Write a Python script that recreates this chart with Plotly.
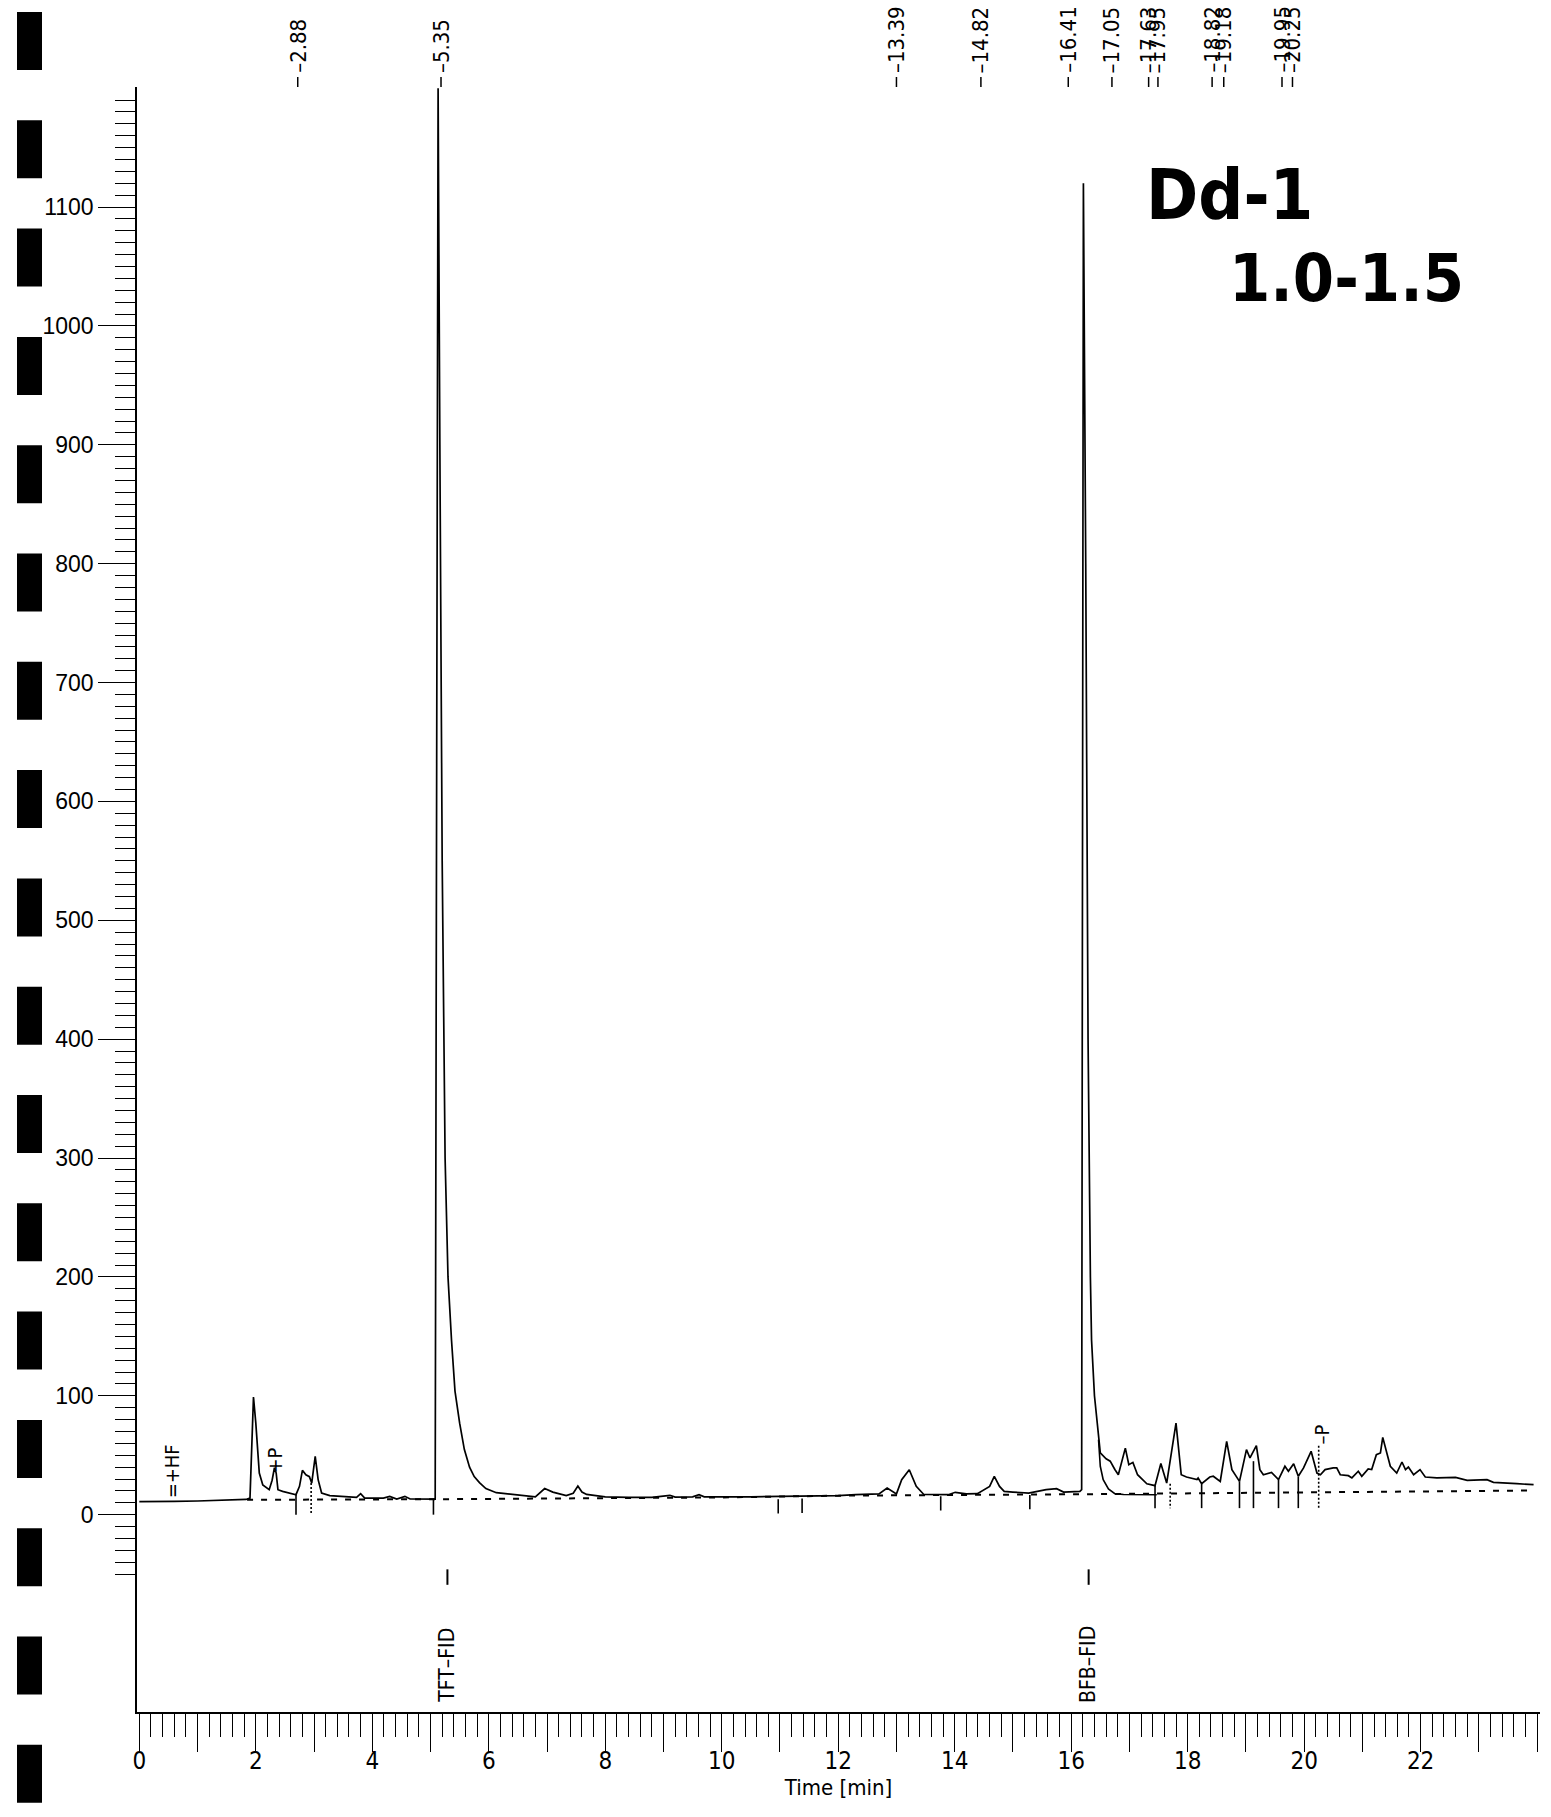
import plotly.graph_objects as go

# ---------------- data ----------------
time_min = [0.00, 0.30, 0.60, 1.00, 1.30, 1.66, 1.83, 1.90, 1.93, 1.96, 2.00, 2.06, 2.12, 2.23, 2.28,
            2.32, 2.35, 2.38, 2.46, 2.60, 2.69, 2.75, 2.80, 2.86, 2.92, 2.96, 3.02, 3.07, 3.13, 3.27,
            3.56, 3.73, 3.80, 3.87, 4.19, 4.30, 4.42, 4.56, 4.65, 5.02, 5.08, 5.10, 5.13, 5.16, 5.20,
            5.25, 5.30, 5.36, 5.42, 5.50, 5.58, 5.67, 5.75, 5.84, 5.95, 6.13, 6.41, 6.60, 6.80, 6.96,
            7.10, 7.33, 7.45, 7.53, 7.60, 7.68, 8.00, 8.40, 8.80, 9.11, 9.20, 9.50, 9.61, 9.70, 10.00,
            10.50, 11.00, 11.50, 12.00, 12.30, 12.70, 12.84, 13.00, 13.09, 13.22, 13.34, 13.47, 13.89,
            14.01, 14.20, 14.39, 14.60, 14.68, 14.77, 14.85, 15.00, 15.27, 15.57, 15.75, 15.87, 16.15,
            16.18, 16.19, 16.21, 16.25, 16.29, 16.33, 16.35, 16.40, 16.47, 16.50, 16.60, 16.67, 16.75, 16.81,
            16.93, 16.99, 17.06, 17.14, 17.30, 17.44, 17.54, 17.64, 17.80, 17.89, 17.98, 18.16, 18.18,
            18.24, 18.38, 18.44, 18.56, 18.67, 18.76, 18.89, 19.01, 19.07, 19.18, 19.24, 19.30, 19.44,
            19.56, 19.67, 19.73, 19.82, 19.90, 19.99, 20.12, 20.22, 20.28, 20.36, 20.50, 20.56, 20.62,
            20.76, 20.82, 20.93, 20.99, 21.10, 21.16, 21.24, 21.31, 21.35, 21.42, 21.48, 21.59, 21.68,
            21.74, 21.79, 21.88, 21.99, 22.08, 22.28, 22.60, 22.80, 23.14, 23.25, 23.65, 23.94]
signal_pA = [11.0, 10.8, 11.2, 11.5, 11.8, 12.6, 12.8, 14.0, 50.0, 99.0, 77.0, 35.0, 25.0, 21.0, 29.0,
             39.5, 35.0, 21.0, 19.6, 18.0, 16.8, 23.8, 37.3, 33.6, 32.0, 26.6, 49.0, 29.5, 18.2, 16.0,
             15.4, 14.6, 17.7, 14.0, 14.0, 15.4, 13.2, 15.4, 13.2, 12.6, 13.0, 500.0, 1200.0, 900.0, 550.0,
             300.0, 200.0, 147.0, 104.0, 77.0, 55.0, 40.0, 32.0, 27.0, 22.0, 18.5, 17.0, 16.0, 15.0, 22.0,
             19.0, 16.0, 18.0, 24.0, 19.0, 17.0, 15.0, 14.5, 14.6, 16.3, 14.8, 15.0, 16.8, 15.0, 14.8,
             15.0, 15.4, 15.6, 16.0, 16.8, 17.5, 22.4, 17.5, 29.4, 37.8, 23.8, 17.0, 16.8,
             18.8, 17.5, 17.7, 23.8, 32.2, 23.8, 19.6, 19.0, 18.2, 21.0, 21.9, 19.0, 19.6,
             21.0, 500.0, 1120.0, 800.0, 400.0, 200.0, 147.0, 100.0, 63.0, 52.0, 47.0, 45.0, 38.0, 33.6,
             56.0, 42.0, 44.0, 33.6, 26.0, 24.4, 43.0, 26.6, 77.0, 33.6, 31.7, 29.5, 30.9,
             26.0, 31.7, 32.3, 28.0, 61.7, 37.9, 28.0, 54.7, 47.7, 58.0, 37.9, 33.6, 35.6,
             29.5, 40.7, 36.5, 42.9, 32.3, 39.3, 53.3, 35.0, 33.6, 37.9, 39.3, 39.3, 33.6,
             32.8, 30.9, 36.5, 32.3, 38.4, 37.9, 50.5, 51.9, 65.0, 51.9, 40.7, 35.0, 44.3,
             37.9, 40.1, 33.6, 37.9, 31.7, 30.9, 31.4, 28.9, 29.5, 27.2, 26.1, 25.2]

# tangent-skim curve under the BFB peak
skim_t = [16.47, 16.50, 16.55, 16.64, 16.75, 16.90, 17.47]
skim_v = [63.0, 40.7, 29.5, 21.6, 17.7, 17.0, 16.8]

# integration baseline (dashed)
base_t = [1.85, 5.10, 10.00, 12.00, 16.20, 23.90]
base_v = [12.5, 13.0, 14.5, 16.0, 17.2, 20.3]

# integration drop lines: time, top, bottom, style
drop_t = [2.69, 2.95, 5.05, 10.97, 11.38, 13.76, 15.29, 17.44, 17.70, 18.24, 18.89, 19.13, 19.56, 19.90, 20.25]
drop_top = [16.8, 26.6, 12.6, 13.0, 13.5, 15.5, 16.5, 24.4, 26.0, 26.0, 28.0, 45.0, 29.5, 32.0, 58.0]
drop_bot = [0.0, 0.0, 0.0, 1.0, 1.5, 3.5, 4.5, 5.5, 5.5, 5.5, 5.5, 5.5, 5.5, 5.5, 5.5]
drop_dotted = [False, True, False, False, False, False, False, False, True, False, False, False, False, False, True]

# retention-time labels printed above the chart (position on the axis, text)
rt_pos = [2.72, 5.18, 13.0, 14.45, 15.95, 16.70, 17.33, 17.49, 18.42, 18.62, 19.62, 19.80]
rt_text = ["2.88", "5.35", "13.39", "14.82", "16.41", "17.05", "17.63", "17.95", "18.82", "19.18", "19.95", "20.25"]

# peak name labels inside the chart
peak_name_t = [0.56, 2.33, 20.30]
peak_name_v = [12.0, 33.0, 57.0]
peak_name_text = ["=+HF", "+P", "–P"]

# surrogate labels under the trace
surr_t = [5.29, 16.30]
surr_text = ["TFT–FID", "BFB–FID"]

x_ticks = list(range(0, 25))
x_tick_text = [str(v) if v % 2 == 0 and v <= 22 else "" for v in x_ticks]
y_ticks = list(range(-50, 1200, 50))
y_tick_text = [str(v) if v % 100 == 0 and v >= 0 else "" for v in y_ticks]
y_minor = list(range(-50, 1200, 10))
x_minor_dt = 0.2

# ---------------- figure ----------------
W, H = 1551, 1817
ML, MR, MT, MB = 137, 11, 87, 105
XR = [-0.04, 24.05]
YR = [-166, 1201]
NARROW = "DejaVu Sans Condensed, Liberation Sans Narrow, Liberation Sans, Arial, sans-serif"
SANS = "Liberation Sans, Arial, sans-serif"

fig = go.Figure()

fig.add_trace(go.Scatter(x=base_t, y=base_v, mode="lines",
                         line=dict(color="black", width=2, dash="6px,8px"), hoverinfo="skip"))

for dotted in (False, True):
    xs, ys = [], []
    for t, a, b, d in zip(drop_t, drop_top, drop_bot, drop_dotted):
        if d == dotted:
            xs += [t, t, None]
            ys += [a, b, None]
    fig.add_trace(go.Scatter(x=xs, y=ys, mode="lines",
                             line=dict(color="black", width=1.6, dash="2px,2px" if dotted else "solid"),
                             hoverinfo="skip"))

fig.add_trace(go.Scatter(x=skim_t, y=skim_v, mode="lines", line=dict(color="black", width=1.6)))
fig.add_trace(go.Scatter(x=time_min, y=signal_pA, mode="lines", line=dict(color="black", width=1.7)))

ann = []
for t, txt in zip(rt_pos, rt_text):
    ann.append(dict(x=t, y=YR[1], xref="x", yref="y", text="–" + txt, textangle=-90,
                    showarrow=False, xanchor="center", yanchor="bottom", yshift=12,
                    font=dict(family=NARROW, size=22, color="black")))
for t, v, txt in zip(peak_name_t, peak_name_v, peak_name_text):
    ann.append(dict(x=t, y=v, text=txt, textangle=-90, showarrow=False,
                    xanchor="center", yanchor="bottom",
                    font=dict(family=NARROW, size=20, color="black")))
for t, txt in zip(surr_t, surr_text):
    ann.append(dict(x=t, y=-160, text=txt, textangle=-90, showarrow=False,
                    xanchor="center", yanchor="bottom",
                    font=dict(family=NARROW, size=21, color="black")))

ann.append(dict(x=18.72, y=1110, text="<b>Dd-1</b>", showarrow=False,
                font=dict(family=NARROW, size=70, color="black")))
ann.append(dict(x=20.72, y=1040, text="<b>1.0-1.5</b>", showarrow=False,
                font=dict(family=NARROW, size=66, color="black")))

shapes = []
# short ticks under the retention-time labels
for t in rt_pos:
    shapes.append(dict(type="line", xref="x", yref="paper", x0=t, x1=t, y0=1.0, y1=1.0 + 10 / (H - MT - MB),
                       line=dict(color="black", width=1.5)))
# ticks above the surrogate labels
for t in surr_t:
    shapes.append(dict(type="line", xref="x", yref="y", x0=t, x1=t, y0=-46, y1=-59,
                       line=dict(color="black", width=2)))
# scanner sprocket marks on the left edge
ph = H - MT - MB
pw = W - ML - MR
for k in range(17):
    top = 12 + 108.3 * k
    shapes.append(dict(type="rect", xref="paper", yref="paper",
                       x0=(17 - ML) / pw, x1=(42 - ML) / pw,
                       y0=(H - MB - (top + 58)) / ph, y1=(H - MB - top) / ph,
                       fillcolor="black", line=dict(width=0)))

fig.update_layout(
    width=W, height=H, margin=dict(l=ML, r=MR, t=MT, b=MB),
    paper_bgcolor="white", plot_bgcolor="white", showlegend=False,
    annotations=ann, shapes=shapes,
    xaxis=dict(range=XR, showgrid=False, zeroline=False, showline=True, linecolor="black", linewidth=1.6,
               ticks="outside", tickmode="array", tickvals=x_ticks, ticktext=x_tick_text,
               ticklen=38, tickwidth=1.4, tickcolor="black", ticklabelstandoff=-12,
               minor=dict(ticks="outside", dtick=x_minor_dt, tick0=0, ticklen=23, tickwidth=1.2, tickcolor="black"),
               tickfont=dict(family=NARROW, size=24, color="black"),
               title=dict(text="Time [min]", font=dict(family=NARROW, size=22, color="black"), standoff=0)),
    yaxis=dict(range=YR, showgrid=False, zeroline=False, showline=True, linecolor="black", linewidth=1.6,
               ticks="outside", tickmode="array", tickvals=y_ticks, ticktext=y_tick_text,
               ticklen=37, tickwidth=1.4, tickcolor="black",
               minor=dict(ticks="outside", tickmode="array", tickvals=y_minor, ticklen=20, tickwidth=1.2,
                          tickcolor="black"),
               tickfont=dict(family=SANS, size=23, color="black")),
)

fig.write_html("out.html")
